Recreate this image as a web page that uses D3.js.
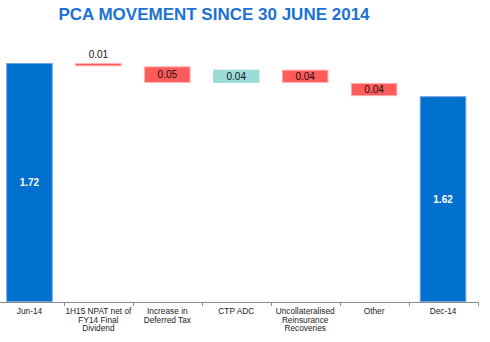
<!DOCTYPE html>
<html>
<head>
<meta charset="utf-8">
<script src="https://cdn.jsdelivr.net/npm/d3@7"></script>
<style>
html,body{margin:0;padding:0;background:#fff;}
svg{display:block;}
</style>
</head>
<body>
<svg id="chart" width="490" height="342"></svg>
<script>
const categories = ["Jun-14", "1H15 NPAT net of\nFY14 Final\nDividend", "Increase in\nDeferred Tax", "CTP ADC", "Uncollateralised\nReinsurance\nRecoveries", "Other", "Dec-14"];
const kinds = ["total", "delta", "delta", "delta", "delta", "delta", "total"];
const values = [1.72, -0.01, -0.05, 0.04, -0.04, -0.04, 1.62];
const valueLabels = ["1.72", "0.01", "0.05", "0.04", "0.04", "0.04", "1.62"];
const title = "PCA MOVEMENT SINCE 30 JUNE 2014";

const svg = d3.select("#chart");
const W = 490, H = 342;
const axisY = 302;

const x = d3.scaleBand().domain(categories).range([-5, 477.5]).paddingInner(0.325).paddingOuter(0.1625);
const y = d3.scaleLinear().domain([1.0, 1.72]).range([axisY, 63]);

// compute waterfall segments
let running = 0;
const bars = categories.map((c, i) => {
  let lo, hi, fill, stroke;
  if (kinds[i] === "total") {
    running = values[i];
    lo = 1.0; hi = values[i];
    fill = "#0070CE"; stroke = "#6FA3E0";
  } else {
    const start = running, end = running + values[i];
    lo = Math.min(start, end); hi = Math.max(start, end);
    running = end;
    if (values[i] < 0) { fill = "#FF5B5B"; stroke = "#FFB0B0"; }
    else { fill = "#9CDCD8"; stroke = "#9CDCD8"; }
  }
  return {c, i, lo, hi, fill, stroke, kind: kinds[i], label: valueLabels[i]};
});

svg.append("text")
  .attr("x", 214).attr("y", 19.5)
  .attr("text-anchor", "middle")
  .attr("font-family", "Liberation Sans, Arial, sans-serif")
  .attr("font-weight", "bold")
  .attr("font-size", "17px")
  .attr("fill", "#1A72D2")
  .text(title);

const g = svg.append("g");
g.selectAll("rect.bar").data(bars).enter().append("rect")
  .attr("class", "bar")
  .attr("x", d => x(d.c) + 0.5)
  .attr("width", x.bandwidth() - 1)
  .attr("y", d => y(d.hi) + 0.5)
  .attr("height", d => Math.max(0.5, y(d.lo) - y(d.hi) - 1))
  .attr("fill", d => d.fill)
  .attr("stroke", d => d.stroke)
  .attr("stroke-width", 1);

// value labels
g.selectAll("text.val").data(bars).enter().append("text")
  .attr("class", "val")
  .attr("x", d => x(d.c) + x.bandwidth() / 2)
  .attr("y", d => {
    const h = y(d.lo) - y(d.hi);
    if (d.kind === "delta" && h < 8) return y(d.hi) - 5;
    return (y(d.lo) + y(d.hi)) / 2 + 3.5;
  })
  .attr("text-anchor", "middle")
  .attr("font-family", "Liberation Sans, Arial, sans-serif")
  .attr("font-size", "10px")
  .attr("font-weight", d => d.kind === "total" ? "bold" : "normal")
  .attr("fill", d => d.kind === "total" ? "#ffffff" : "#111111")
  .text(d => d.label);

// axis
const axisG = svg.append("g");
axisG.append("line")
  .attr("x1", 0).attr("x2", 478)
  .attr("y1", axisY + 0.5).attr("y2", axisY + 0.5)
  .attr("stroke", "#8c8c8c").attr("stroke-width", 1);
const boundaries = categories.slice(1).map(c => x(c) - x.step() * x.paddingInner() / 2).concat([x(categories[categories.length - 1]) + x.bandwidth() + x.step() * x.paddingInner() / 2]);
axisG.selectAll("line.tick").data(boundaries).enter().append("line")
  .attr("class", "tick")
  .attr("x1", d => Math.round(d) + 0.5).attr("x2", d => Math.round(d) + 0.5)
  .attr("y1", axisY).attr("y2", axisY + 4)
  .attr("stroke", "#8c8c8c").attr("stroke-width", 1);

const labels = axisG.selectAll("text.cat").data(categories).enter().append("text")
  .attr("class", "cat")
  .attr("x", d => x(d) + x.bandwidth() / 2)
  .attr("y", 314)
  .attr("text-anchor", "middle")
  .attr("font-family", "Liberation Sans, Arial, sans-serif")
  .attr("font-size", "8.3px")
  .attr("fill", "#222");
labels.each(function(d) {
  const t = d3.select(this);
  d.split("\n").forEach((line, k) => {
    t.append("tspan").attr("x", x(d) + x.bandwidth() / 2).attr("dy", k === 0 ? 0 : 8.7).text(line);
  });
});
</script>
</body>
</html>
